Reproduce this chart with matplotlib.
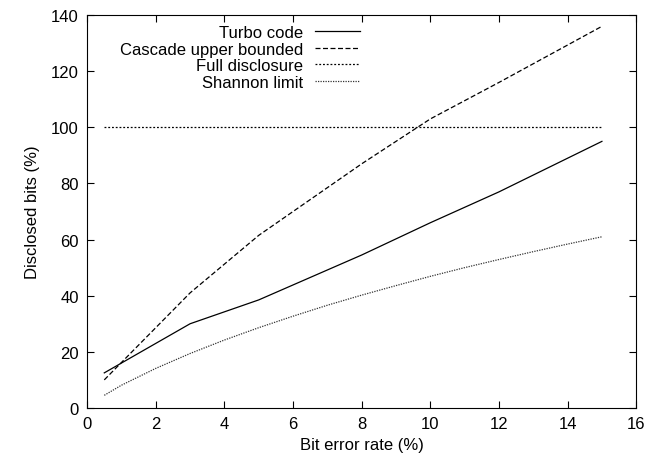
import matplotlib
matplotlib.use("Agg")
import matplotlib.pyplot as plt

plt.rcParams['font.family'] = ['Liberation Sans', 'DejaVu Sans']

# data
turbo_x = [0.5, 3, 5, 8, 10, 12, 15]
turbo_y = [12.5, 30, 38.5, 54.5, 66, 77, 95]

cascade_x = [0.5, 3, 5, 8, 10, 12, 15]
cascade_y = [10, 41, 61.5, 87, 103, 116, 136]

full_x = [0.5, 15]
full_y = [100, 100]

shannon_x = [0.5, 1, 2, 3, 4, 5, 6, 7, 8, 9, 10, 11, 12, 13, 14, 15]
shannon_y = [4.5, 8.1, 14.1, 19.4, 24.2, 28.6, 32.7, 36.6, 40.2, 43.6, 46.9,
             50.0, 52.9, 55.7, 58.4, 61.0]

fig = plt.figure(figsize=(6.6, 4.6), dpi=100)
ax = fig.add_axes([0.132, 0.111, 0.832, 0.854])

ax.plot(turbo_x, turbo_y, color='black', lw=0.9, label='Turbo code')
ax.plot(cascade_x, cascade_y, color='black', lw=0.9, dashes=(4, 2),
        label='Cascade upper bounded')
ax.plot(full_x, full_y, color='black', lw=0.9, dashes=(1.5, 1.5),
        label='Full disclosure')
ax.plot(shannon_x, shannon_y, color='#333333', lw=0.9, dashes=(1, 1),
        label='Shannon limit')

ax.set_xlim(0, 16)
ax.set_ylim(0, 140)
ax.set_xticks(range(0, 17, 2))
ax.set_yticks(range(0, 141, 20))
ax.tick_params(direction='in', top=True, right=True, labelsize=12, length=5,
               pad=6)
ax.set_xlabel('Bit error rate (%)', fontsize=12, labelpad=4)
ax.set_ylabel('Disclosed bits (%)', fontsize=12, labelpad=8)

leg = ax.legend(loc='upper right', bbox_to_anchor=(0.497, 0.975),
                frameon=False, markerfirst=False, fontsize=12,
                handlelength=2.7, handletextpad=0.7, labelspacing=0.1,
                borderaxespad=0, borderpad=0)
for t in leg.get_texts():
    t.set_ha('right')
leg._legend_box.align = 'right'

fig.savefig('out.png', dpi=100)
